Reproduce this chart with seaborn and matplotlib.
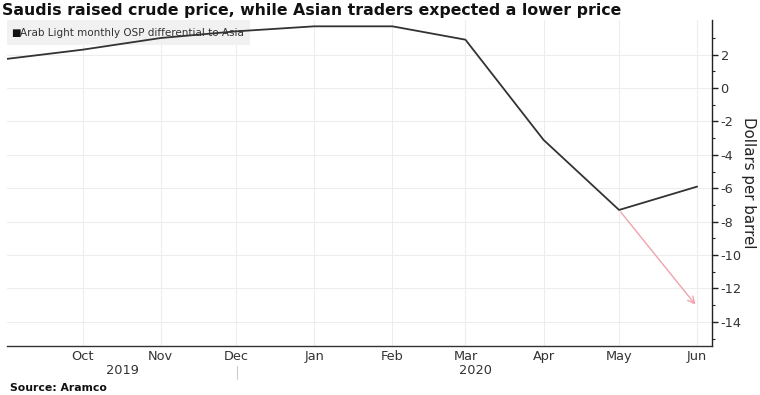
import seaborn as sns
import matplotlib.pyplot as plt
import pandas as pd

# monthly OSP differential, $/bbl
months = ["2019-09-01", "2019-10-01", "2019-11-01", "2019-12-01", "2020-01-01",
          "2020-02-01", "2020-03-01", "2020-04-01", "2020-05-01", "2020-06-01"]
osp = [1.75, 2.3, 3.0, 3.4, 3.7, 3.7, 2.9, -3.1, -7.3, -5.9]

# expected lower price (red arrow)
expected_dates = ["2020-05-01", "2020-06-01"]
expected_vals = [-7.3, -13.1]

tick_labels = ["Oct", "Nov", "Dec", "Jan", "Feb", "Mar", "Apr", "May", "Jun"]
y_ticks = [2, 0, -2, -4, -6, -8, -10, -12, -14]

df = pd.DataFrame({"date": pd.to_datetime(months), "osp": osp})
exp_d = pd.to_datetime(expected_dates)

sns.set_style("white")
plt.rcParams["font.family"] = ["DejaVu Sans"]

fig = plt.figure(figsize=(7.6, 3.95), dpi=100)
ax = fig.add_axes([0.0092, 0.124, 0.928, 0.825])

sns.lineplot(data=df, x="date", y="osp", ax=ax, color="#333333", linewidth=1.3, zorder=5)

ax.annotate("", xy=(exp_d[1], expected_vals[1]), xytext=(exp_d[0], expected_vals[0]),
            arrowprops=dict(arrowstyle="->", color="#eea3ad", lw=1.0, mutation_scale=12),
            zorder=4)

ax.set_xlim(pd.Timestamp("2019-09-01"), pd.Timestamp("2020-06-07"))
ax.set_ylim(-15.45, 4.07)

ax.set_xticks(pd.to_datetime(months[1:]))
ax.set_xticklabels(tick_labels, fontsize=9.3, color="#333333")
ax.tick_params(axis="x", length=0, pad=3)

ax.yaxis.tick_right()
ax.yaxis.set_label_position("right")
ax.set_yticks(y_ticks)
ax.set_yticklabels([str(v) for v in y_ticks], fontsize=9.3, color="#333333")
ax.set_yticks([3, 1, -1, -3, -5, -7, -9, -11, -13, -15], minor=True)
ax.tick_params(axis="y", which="major", direction="out", length=4, width=1, color="#222222", pad=2)
ax.tick_params(axis="y", which="minor", direction="out", length=2, width=0.8, color="#222222")
ax.set_ylabel("Dollars per barrel", fontsize=10.8, rotation=-90, labelpad=10, color="#222222")
ax.set_xlabel("")

ax.grid(True, which="major", color="#ededed", linewidth=0.8)
ax.set_axisbelow(True)

for side in ["top", "left"]:
    ax.spines[side].set_visible(False)
ax.spines["right"].set_color("#222222")
ax.spines["bottom"].set_color("#333333")
ax.spines["right"].set_linewidth(1.0)
ax.spines["bottom"].set_linewidth(1.0)

# legend box
ax.add_patch(plt.Rectangle((0, 0.923), 0.345, 0.077, transform=ax.transAxes,
                           facecolor="#f1f1f1", edgecolor="none", zorder=1))
ax.text(0.006, 0.96, "\u25a0", transform=ax.transAxes, fontsize=7.3, va="center",
        color="#111111", zorder=2)
ax.text(0.018, 0.96, "Arab Light monthly OSP differential to Asia", transform=ax.transAxes,
        fontsize=7.5, va="center", color="#333333", zorder=2)

# year labels
fig.text(122 / 760, 1 - 371 / 395, "2019", fontsize=9.3, ha="center", va="center", color="#333333")
fig.text(475 / 760, 1 - 371 / 395, "2020", fontsize=9.3, ha="center", va="center", color="#333333")
fig.add_artist(plt.Line2D([237 / 760, 237 / 760], [1 - 366 / 395, 1 - 379 / 395],
                          color="#cccccc", linewidth=0.8))

fig.text(0.003, 1 - 10 / 395, "Saudis raised crude price, while Asian traders expected a lower price",
         fontsize=11.3, fontweight="bold", va="center", ha="left", color="#111111")
fig.text(10 / 760, 1 - 388 / 395, "Source: Aramco", fontsize=7.8, fontweight="bold",
         va="center", ha="left", color="#111111")

fig.savefig("out.png", dpi=100)
